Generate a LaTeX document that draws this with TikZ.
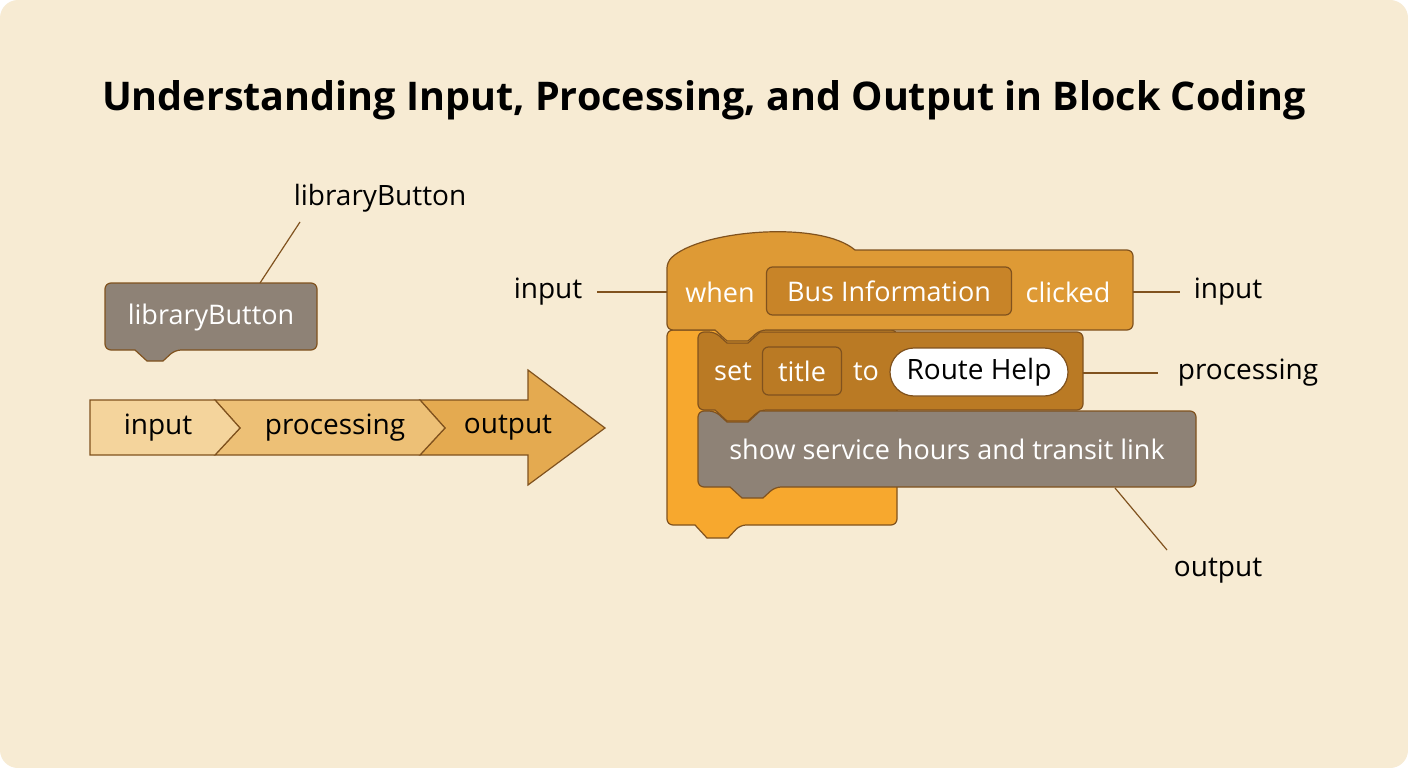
\documentclass[tikz,border=0pt]{standalone}
\usepackage{fontspec}
\setmainfont{Open Sans}
\usetikzlibrary{positioning}
\definecolor{BgPaper}{RGB}{247,235,211}
\definecolor{BlkEdge}{RGB}{128,82,30}
\definecolor{HatOrange}{RGB}{222,154,53}
\definecolor{HatField}{RGB}{200,132,40}
\definecolor{COrange}{RGB}{247,168,46}
\definecolor{SetBrown}{RGB}{186,122,36}
\definecolor{ShowGray}{RGB}{142,130,118}
\definecolor{StepOne}{RGB}{244,212,156}
\definecolor{StepTwo}{RGB}{237,192,118}
\definecolor{StepThree}{RGB}{228,170,80}
\tikzset{
  blk/.style={draw=BlkEdge,line width=1.2pt,rounded corners=6pt},
  wtxt/.style={text=white,font=\fontsize{27}{30}\selectfont},
  ktxt/.style={text=black,font=\fontsize{28}{32}\selectfont},
  fld/.style={blk,fill=#1,inner sep=0pt,minimum height=48pt,wtxt},
  lead/.style={draw=BlkEdge,line width=1.2pt},
}
\begin{document}
\begin{tikzpicture}[x=1pt,y=-1pt]
\useasboundingbox (0,0) rectangle (1408,768);
\fill[white] (0,0) rectangle (1408,768);
\fill[BgPaper,rounded corners=18pt] (0,0) rectangle (1408,768);
\node[font=\bfseries\fontsize{39.5}{46}\selectfont] (title) at (704,100) {Understanding Input, Processing, and Output in Block Coding};
% left: single block
\draw[blk,fill=ShowGray] (105,283) -- (317,283) -- (317,350) -- (175,350) [sharp corners] -- (163,361) -- (147,361) -- (135,350) [rounded corners=6pt] -- (105,350) -- cycle;
\node[wtxt] (libblk) at (211,317) {libraryButton};
\node[ktxt] (liblbl) at (380,198) {libraryButton};
\draw[lead] (300,222) -- (260,283);
% left: flow arrow
\draw[draw=BlkEdge,line width=1.2pt,fill=StepThree] (420,400) -- (528,400) -- (528,370) -- (605,428) -- (528,485) -- (528,455) -- (420,455) -- (445,428) -- cycle;
\draw[draw=BlkEdge,line width=1.2pt,fill=StepTwo] (215,400) -- (420,400) -- (445,428) -- (420,455) -- (215,455) -- (240,428) -- cycle;
\draw[draw=BlkEdge,line width=1.2pt,fill=StepOne] (90,400) -- (215,400) -- (240,428) -- (215,455) -- (90,455) -- cycle;
\node[ktxt] (stin) at (158,428) {input};
\node[ktxt] (stproc) at (335,428) {processing};
\node[ktxt] (stout) at (508,428) {output};
% right: C block
\draw[blk,fill=COrange] (667,330) -- (897,330) -- (897,525) -- (740,525) [sharp corners] -- (728,538) -- (707,538) -- (695,525) [rounded corners=6pt] -- (667,525) -- cycle;
% right: hat block
\draw[blk,fill=HatOrange] (667,330) -- (667,262) [sharp corners] .. controls (700,230) and (820,220) .. (855,250) [rounded corners=6pt] -- (1133,250) -- (1133,330) -- (760,330) [sharp corners] -- (748,341) -- (727,341) -- (715,330) [rounded corners=6pt] -- cycle;
\node[wtxt] (when) at (720,292) {when};
\node[fld=HatField,minimum width=245pt] (busfld) at (889,291) {Bus Information};
\node[wtxt] (clicked) at (1068,292) {clicked};
% right: set block
\draw[blk,fill=SetBrown] (698,332) -- (715,332) [sharp corners] -- (727,343) -- (748,343) -- (760,332) [rounded corners=6pt] -- (1083,332) -- (1083,410) -- (760,410) [sharp corners] -- (748,421) -- (727,421) -- (715,410) [rounded corners=6pt] -- (698,410) -- cycle;
\node[wtxt] (set) at (733,372) {set};
\node[fld=SetBrown,minimum width=79pt] (titlefld) at (802,371) {title};
\node[wtxt] (to) at (866,372) {to};
\node[draw=BlkEdge,line width=1.2pt,fill=white,rounded corners=24pt,minimum width=178pt,minimum height=48pt,inner sep=0pt,ktxt] (route) at (979,372) {Route Help};
% right: show block
\draw[blk,fill=ShowGray] (698,411) -- (715,411) [sharp corners] -- (727,422) -- (748,422) -- (760,411) [rounded corners=6pt] -- (1196,411) -- (1196,487) -- (775,487) [sharp corners] -- (763,498) -- (742,498) -- (730,487) [rounded corners=6pt] -- (698,487) -- cycle;
\node[wtxt] (show) at (947,449) {show service hours and transit link};
% labels
\node[ktxt] (inl) at (548,292) {input};
\node[ktxt] (inr) at (1228,292) {input};
\node[ktxt] (procr) at (1248,373) {processing};
\node[ktxt] (outr) at (1218,571) {output};
\coordinate (hatL) at (667,292);
\coordinate (hatR) at (1133,292);
\coordinate (setR) at (1083,373);
\coordinate (showB) at (1115,488);
\draw[lead] (597,292) -- (hatL);
\draw[lead] (hatR) -- (1180,292);
\draw[lead] (setR) -- (1158,373);
\draw[lead] (showB) -- (1167,550);
\end{tikzpicture}
\end{document}
